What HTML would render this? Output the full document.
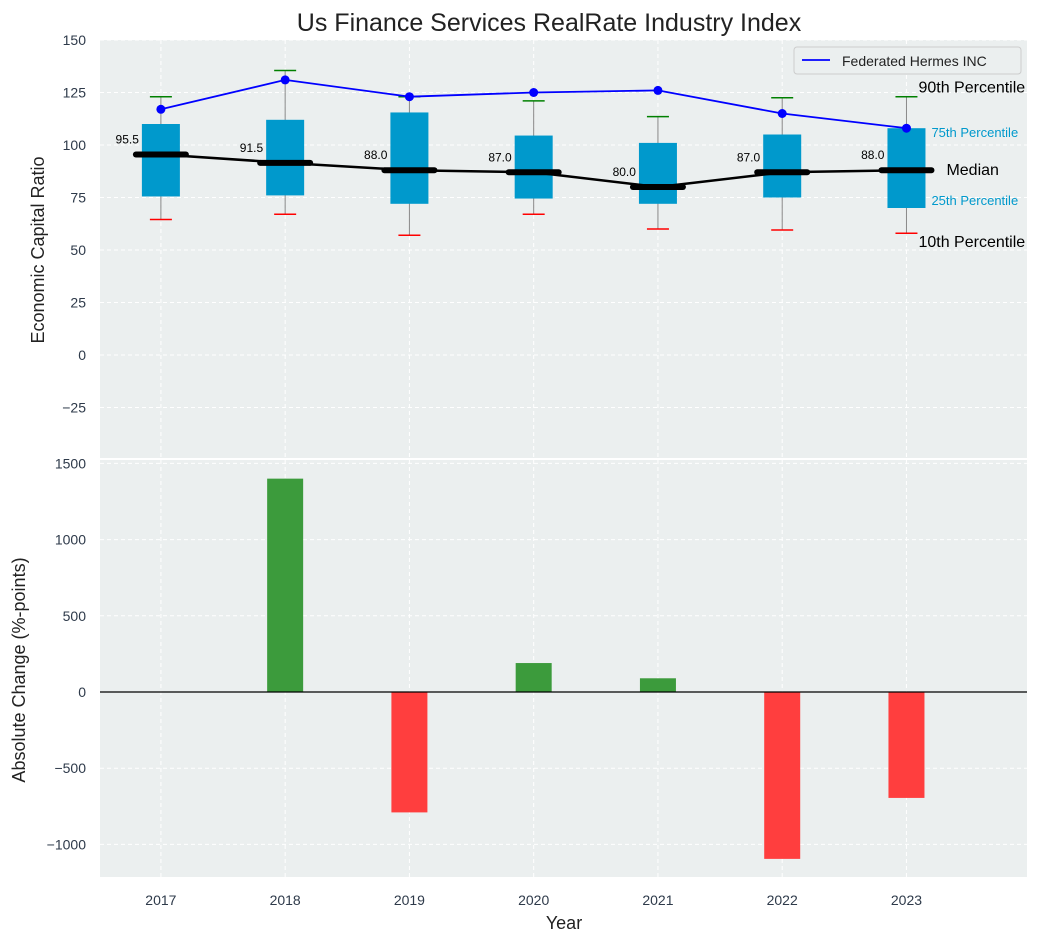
<!DOCTYPE html>
<html><head><meta charset="utf-8"><style>
body{margin:0;background:#fff}
svg{font-family:"Liberation Sans","DejaVu Sans",sans-serif}
</style></head><body>
<svg id="c" width="1053" height="942" xmlns="http://www.w3.org/2000/svg"></svg>
<script>
const years=[2017,2018,2019,2020,2021,2022,2023];
const q1=[75.5,76,72,74.5,72,75,70];
const q3=[110,112,115.5,104.5,101,105,108];
const med=[95.5,91.5,88,87,80,87,88];
const p10=[64.5,67,57,67,60,59.5,58];
const p90=[123,135.5,123,121,113.5,122.5,123];
const firm=[117,131,123,125,126,115,108];
const changes=[0,1400,-790,190,90,-1095,-695];
const topTicks=[150,125,100,75,50,25,0,-25];
const botTicks=[1500,1000,500,0,-500,-1000];

const NS="http://www.w3.org/2000/svg";
const svg=document.getElementById('c');
function el(t,a,txt){const e=document.createElementNS(NS,t);for(const k in a)e.setAttribute(k,a[k]);if(txt!==undefined)e.textContent=txt;svg.appendChild(e);return e;}
const X0=100,X1=1027;
const x=v=>X0+(v-2016.51)/(2023.97-2016.51)*(X1-X0);
const yT=v=>40+(150-v)*2.1;
const yB=v=>692-v*0.1524;

let r=el('rect',{x:X0,y:40,width:X1-X0,height:418,fill:'#ebefef'});

r=el('rect',{x:X0,y:460,width:X1-X0,height:417,fill:'#ebefef'});


years.forEach(yr=>{
 el('line',{x1:x(yr),x2:x(yr),y1:40,y2:458,stroke:'#fff','stroke-dasharray':'4,3'});
 el('line',{x1:x(yr),x2:x(yr),y1:460,y2:877,stroke:'#fff','stroke-dasharray':'4,3'});
 let t=el('text',{x:x(yr),y:905,'text-anchor':'middle','font-size':14,fill:'#2e3a4a'},yr);
 
});
topTicks.forEach(v=>{
 el('line',{x1:X0,x2:X1,y1:yT(v),y2:yT(v),stroke:'#fff','stroke-dasharray':'4,3'});
 let t=el('text',{x:86,y:yT(v)+5,'text-anchor':'end','font-size':14,fill:'#2e3a4a'},v<0?'\u2212'+(-v):v);
 
});
botTicks.forEach(v=>{
 el('line',{x1:X0,x2:X1,y1:yB(v),y2:yB(v),stroke:'#fff','stroke-dasharray':'4,3'});
 let t=el('text',{x:86,y:yB(v)+5,'text-anchor':'end','font-size':14,fill:'#2e3a4a'},v<0?'\u2212'+(-v):v);
 
});

years.forEach((yr,i)=>{
 const cx=x(yr);
 let w=el('line',{x1:cx,x2:cx,y1:yT(p90[i]),y2:yT(p10[i]),stroke:'#888','stroke-width':1});
 
 let b=el('rect',{x:cx-19,y:yT(q3[i]),width:38,height:yT(q1[i])-yT(q3[i]),fill:'#0099cc'});
 
 let c1=el('line',{x1:cx-11,x2:cx+11,y1:yT(p90[i]),y2:yT(p90[i]),stroke:'green','stroke-width':1.5});
 
 let c2=el('line',{x1:cx-11,x2:cx+11,y1:yT(p10[i]),y2:yT(p10[i]),stroke:'red','stroke-width':1.5});
 
});
let mp=el('polyline',{points:years.map((yr,i)=>x(yr)+','+yT(med[i])).join(' '),fill:'none',stroke:'#000','stroke-width':2.5});

years.forEach((yr,i)=>{
 let m=el('line',{x1:x(yr)-25,x2:x(yr)+25,y1:yT(med[i]),y2:yT(med[i]),stroke:'#000','stroke-width':6,'stroke-linecap':'round'});
 
 let t=el('text',{x:x(yr)-22,y:yT(med[i])-11,'text-anchor':'end','font-size':12,fill:'#000'},med[i].toFixed(1));
 
});
let fl=el('polyline',{points:years.map((yr,i)=>x(yr)+','+yT(firm[i])).join(' '),fill:'none',stroke:'blue','stroke-width':1.8});

years.forEach((yr,i)=>{
 let p=el('circle',{cx:x(yr),cy:yT(firm[i]),r:4.5,fill:'blue'});
 
});

let lg=el('rect',{x:794,y:47,width:227,height:27,fill:'#ebefef',stroke:'#ccc',rx:3});

el('line',{x1:802,x2:830,y1:60,y2:60,stroke:'blue','stroke-width':1.8});
let lt=el('text',{x:842,y:66,'font-size':14,fill:'#222'},'Federated Hermes INC');


const lx=x(2023);
[['90th Percentile',yT(p90[6])-4,16,'#000',12],['75th Percentile',yT(q3[6])+9,13,'#0099cc',25],['Median',yT(med[6])+5,16,'#000',40],['25th Percentile',yT(q1[6])-3,13,'#0099cc',25],['10th Percentile',yT(p10[6])+14,16,'#000',12]].forEach(a=>{
 let t=el('text',{x:lx+a[4],y:a[1],'font-size':a[2],fill:a[3]},a[0]);
 
});

years.forEach((yr,i)=>{
 const v=changes[i];
 let b=el('rect',{x:x(yr)-18,y:Math.min(yB(v),yB(0)),width:36,height:Math.abs(yB(v)-yB(0)),fill:v>=0?'#3c9b3c':'#ff3e3e'});
 
});
el('line',{x1:X0,x2:X1,y1:yB(0),y2:yB(0),stroke:'#000','stroke-width':1.2});

let ti=el('text',{x:549,y:31,'text-anchor':'middle','font-size':25,fill:'#222'},'Us Finance Services RealRate Industry Index');

let a1=el('text',{x:0,y:0,transform:'translate(44,250) rotate(-90)','text-anchor':'middle','font-size':18,fill:'#222'},'Economic Capital Ratio');

let a2=el('text',{x:0,y:0,transform:'translate(25,670) rotate(-90)','text-anchor':'middle','font-size':18,fill:'#222'},'Absolute Change (%-points)');

let xa=el('text',{x:564,y:929,'text-anchor':'middle','font-size':18,fill:'#222'},'Year');

</script>
</body></html>
